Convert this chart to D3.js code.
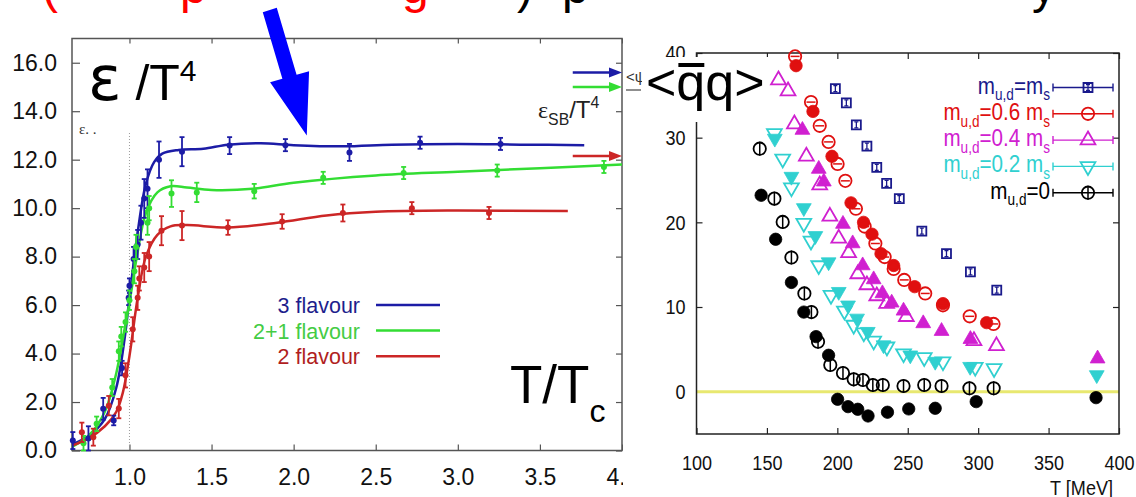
<!DOCTYPE html>
<html>
<head>
<meta charset="utf-8">
<script src="https://cdn.jsdelivr.net/npm/d3@7"></script>
<style>
  html, body { margin: 0; padding: 0; background: #fff; }
  svg { display: block; font-family: "Liberation Sans", Arial, sans-serif; }
</style>
</head>
<body>
<svg id="slide" width="1136" height="497"></svg>
<script>
// ---------- energy density panel: eps/T^4 against T/Tc ----------
const flavourNames = ['3 flavour', '2+1 flavour', '2 flavour'];
const flavourColors = ['#1c1ca6', '#33dd33', '#cc2626'];
const flavourTextColors = ['#1e1e8c', '#44cc44', '#b01e1e'];

// lattice results [T/Tc, eps/T^4, error]
const pts3 = [
  [0.655, 0.41, 0.35], [0.75, 0.5, 0.5], [0.84, 1.72, 0.45], [0.904, 1.24, 0.2],
  [0.955, 3.4, 0.3], [0.995, 6.3, 0.3], [1.0, 6.8, 0.3], [1.025, 7.9, 0.5],
  [1.05, 8.5, 0.6], [1.07, 9.4, 0.7], [1.09, 10.4, 0.8], [1.11, 10.8, 0.8],
  [1.18, 12.0, 0.75], [1.32, 12.33, 0.6], [1.61, 12.58, 0.35], [1.95, 12.6, 0.25],
  [2.34, 12.3, 0.35], [2.77, 12.7, 0.25], [3.26, 12.65, 0.25]
];
const pts21 = [
  [0.72, 0.3, 0.3], [0.80, 1.1, 0.3], [0.895, 2.6, 0.35], [0.935, 4.1, 0.4],
  [0.95, 4.7, 0.4], [0.976, 5.3, 0.4], [1.0, 6.2, 0.4], [1.03, 7.4, 0.5],
  [1.04, 8.4, 0.5], [1.11, 9.4, 0.5], [1.12, 10.0, 0.5], [1.256, 10.6, 0.55],
  [1.41, 10.65, 0.4], [1.76, 10.7, 0.3], [2.18, 11.25, 0.25], [2.67, 11.45, 0.25],
  [3.24, 11.55, 0.25], [3.89, 11.7, 0.25]
];
const pts2 = [
  [0.71, 0.75, 0.4], [0.78, 0.55, 0.35], [0.874, 1.85, 0.4], [0.935, 1.73, 0.4],
  [0.976, 3.1, 0.5], [1.02, 5.0, 0.5], [1.05, 6.3, 0.5], [1.06, 7.1, 0.5],
  [1.09, 7.55, 0.6], [1.12, 8.0, 0.6], [1.195, 9.07, 0.6], [1.32, 9.28, 0.6],
  [1.60, 9.2, 0.3], [1.93, 9.45, 0.3], [2.30, 9.8, 0.35], [2.72, 10.0, 0.25],
  [3.19, 9.8, 0.25]
];

// smooth fits through the data
const fit3 = [
  [0.65, 0.25], [0.75, 0.6], [0.85, 1.3], [0.92, 2.6], [0.97, 4.6], [1.0, 6.3],
  [1.05, 9.0], [1.1, 11.0], [1.15, 11.9], [1.2, 12.25], [1.3, 12.4], [1.45, 12.45],
  [1.6, 12.62], [1.8, 12.68], [2.0, 12.6], [2.3, 12.55], [2.6, 12.62], [3.0, 12.65],
  [3.4, 12.62], [3.77, 12.6]
];
const fit21 = [
  [0.65, 0.15], [0.75, 0.6], [0.85, 1.6], [0.92, 3.2], [0.97, 5.0], [1.0, 6.1],
  [1.05, 8.2], [1.1, 9.8], [1.17, 10.65], [1.25, 10.9], [1.35, 10.85], [1.5, 10.75],
  [1.75, 10.8], [2.0, 11.05], [2.5, 11.35], [3.0, 11.5], [3.5, 11.65], [4.0, 11.8]
];
const fit2 = [
  [0.65, 0.2], [0.75, 0.5], [0.85, 1.0], [0.92, 1.6], [0.96, 2.4], [1.0, 3.9],
  [1.05, 6.3], [1.1, 8.0], [1.17, 8.9], [1.25, 9.25], [1.35, 9.3], [1.6, 9.2],
  [1.9, 9.4], [2.2, 9.7], [2.5, 9.85], [3.0, 9.9], [3.67, 9.88]
];

const sbLimits = [15.6, 15.0, 12.15];   // Stefan-Boltzmann values
const epsTicksY = [0, 2, 4, 6, 8, 10, 12, 14, 16];
const epsTicksX = [1.0, 1.5, 2.0, 2.5, 3.0, 3.5, 4.0];

// ---------- chiral condensate panel: <qq> against T [MeV] ----------
const massLabels = [
  [['m'], ['u,d', 'sub'], ['=m'], ['s', 'sub']],
  [['m'], ['u,d', 'sub'], ['=0.6 m'], ['s', 'sub']],
  [['m'], ['u,d', 'sub'], ['=0.4 m'], ['s', 'sub']],
  [['m'], ['u,d', 'sub'], ['=0.2 m'], ['s', 'sub']],
  [['m'], ['u,d', 'sub'], ['=0']]
];
const massColors = ['#1a1a8c', '#e01010', '#d020d0', '#30d0d0', '#000000'];
const massSymbols = ['square', 'circle', 'triangle', 'triangleDown', 'circle'];

// [T, <qq>] open symbols
const openMs = [[198.6, 35.8], [206.4, 34.1], [213.5, 31.5], [221, 29.0], [228, 26.5], [235, 24.6],
  [244, 22.8], [260, 18.95], [277.5, 16.3], [294.5, 14.15], [313.2, 12.0]];
const open06 = [[170, 39.6], [181.3, 34.2], [187.5, 31.4], [193.8, 29.5], [200.2, 26.9], [205.7, 24.9],
  [213.2, 21.6], [219.4, 19.5], [227, 17.5], [233.6, 15.9], [240, 14.5], [247.5, 13.2],
  [262.4, 11.6], [275, 10.2], [294, 8.9], [310.9, 8.0]];
const open04 = [[158.2, 36.8], [165, 35.5], [169.5, 31.6], [178, 27.8], [187.5, 24.4], [194.7, 20.7],
  [201, 18.1], [208, 16.4], [214.5, 13.9], [221, 12.6], [228, 11.3], [235, 10.4], [249, 8.85],
  [297, 6.0], [313, 5.4]];
const open02 = [[155.3, 30.5], [161.2, 27.5], [167.4, 24.1], [176.2, 19.9], [181.3, 17.8], [186.8, 14.9],
  [195.5, 11.4], [205, 9.55], [211.6, 7.87], [218.8, 6.96], [225.8, 6.0], [235.2, 5.3], [247, 4.5],
  [261.7, 4.05], [275, 3.55], [297.9, 2.9], [311.3, 2.75]];
const open0 = [[144.9, 28.7], [155.3, 22.8], [161.2, 20.05], [167.4, 15.85], [176.6, 11.6], [181.6, 9.4],
  [186.3, 5.9], [195, 3.15], [204, 2.2], [211.6, 1.46], [218.2, 1.38], [225.2, 0.79], [232.3, 0.79],
  [247, 0.67], [261.7, 0.79], [274, 0.67], [293.8, 0.4], [311, 0.4]];

// [T, <qq>] filled symbols
const full06 = [[170.7, 38.5], [182.7, 33.1], [196.2, 27.8], [209.7, 22.3], [218.6, 20.0], [224.6, 18.6],
  [231, 16.3], [240, 14.9], [254.9, 12.4], [275, 10.4], [306, 8.15]];
const full04 = [[175.2, 30.9], [186.8, 26.3], [190.4, 24.8], [204, 19.8], [210.9, 17.5], [218, 14.9],
  [225.8, 13.25], [232, 11.6], [238.6, 10.5], [247, 9.55], [261, 8.06], [274, 7.15], [294.5, 6.2],
  [384.8, 3.9]];
const full02 = [[155.6, 29.9], [167.4, 25.4], [176.2, 21.7], [184.4, 18.4], [193.8, 15.3], [201, 11.8],
  [207.6, 10.2], [214, 8.65], [221.6, 7.08], [232.8, 5.5], [251.8, 4.3], [269.5, 3.55], [294.3, 2.95],
  [384.2, 1.97]];
const full0 = [[145.9, 23.2], [156.2, 18.0], [167.4, 12.9], [176.2, 9.4], [184.9, 6.5], [193.8, 4.3],
  [200.2, -0.9], [207.6, -1.77], [214.5, -2.08], [221.8, -2.87], [235.6, -2.43], [250.7, -2.04],
  [269.5, -1.96], [298.6, -1.18], [383.7, -0.71]];

const condTicksX = [100, 150, 200, 250, 300, 350, 400];
const condTicksY = [0, 10, 20, 30, 40];

// ------------------------------------------------------------------
const svg = d3.select('#slide');
svg.append('rect').attr('width', 1136).attr('height', 497).attr('fill', '#fff');

// slide headline, only its lower part reaches into view
const headGlyphs = [
  { t: '(', x: 42, c: '#ff0000' }, { t: 'p', x: 180, c: '#ff0000' }, { t: 'g', x: 402, c: '#ff0000' },
  { t: ')', x: 517, c: '#000' }, { t: 'p', x: 562, c: '#000' }, { t: 'y', x: 1032, c: '#000' }
];
svg.selectAll('text.head').data(headGlyphs).join('text')
  .attr('class', 'head')
  .attr('x', d => d.x).attr('y', 3)
  .attr('font-size', 48).attr('fill', d => d.c)
  .text(d => d.t);

function richText(g, x, y, parts, size, color, anchor) {
  const t = g.append('text').attr('x', x).attr('y', y)
    .attr('font-size', size).attr('fill', color).attr('text-anchor', anchor || 'start');
  let shift = 0;
  parts.forEach(p => {
    const kind = p[1];
    const target = kind === 'sub' ? size * 0.28 : kind === 'sup' ? -size * 0.42 : 0;
    t.append('tspan')
      .attr('dy', target - shift)
      .attr('font-size', kind ? size * 0.66 : size)
      .text(p[0]);
    shift = target;
  });
  return t;
}

// ---------------- left panel ----------------
const xL = d3.scaleLinear().domain([0.65, 4.0]).range([72, 622]);
const yL = d3.scaleLinear().domain([0, 17]).range([450.5, 38.5]);
const gL = svg.append('g');

function styleAxis(g, size) {
  g.select('.domain').remove();
  g.selectAll('line').attr('stroke', '#555').attr('stroke-width', 1.2);
  g.selectAll('text').attr('font-size', size).attr('fill', '#111')
    .attr('font-family', '"Liberation Sans", Arial, sans-serif');
}

gL.append('g').attr('transform', 'translate(72,0)')
  .call(d3.axisLeft(yL).tickValues(epsTicksY).tickFormat(d3.format('.1f'))
    .tickSizeInner(-8).tickSizeOuter(0).tickPadding(15))
  .call(g => styleAxis(g, 23));
gL.append('g').attr('transform', 'translate(622,0)')
  .call(d3.axisRight(yL).tickValues(epsTicksY).tickFormat('').tickSizeInner(-6).tickSizeOuter(0))
  .call(g => styleAxis(g, 0));
gL.append('g').attr('transform', 'translate(0,450.5)')
  .call(d3.axisBottom(xL).tickValues(epsTicksX).tickFormat(d3.format('.1f'))
    .tickSizeInner(-6).tickSizeOuter(0).tickPadding(18))
  .call(g => styleAxis(g, 23));
gL.append('g').attr('transform', 'translate(0,38.5)')
  .call(d3.axisTop(xL).tickValues(epsTicksX).tickFormat('').tickSizeInner(-5).tickSizeOuter(0))
  .call(g => styleAxis(g, 0));

gL.append('rect')
  .attr('x', xL(0.65)).attr('y', yL(17))
  .attr('width', xL(4.0) - xL(0.65)).attr('height', yL(0) - yL(17))
  .attr('fill', 'none').attr('stroke', '#555').attr('stroke-width', 1.5);

// T = Tc marker
gL.append('line')
  .attr('x1', xL(1)).attr('x2', xL(1)).attr('y1', yL(13.1)).attr('y2', yL(0))
  .attr('stroke', '#999').attr('stroke-width', 1).attr('stroke-dasharray', '1,2');

// remnant of the original axis label
gL.append('text').attr('x', 79).attr('y', 134).attr('font-size', 15)
  .attr('font-family', '"Liberation Serif", serif').attr('fill', '#333').text('ε. .');

const lineL = d3.line().x(d => xL(d[0])).y(d => yL(d[1])).curve(d3.curveCatmullRom.alpha(0.5));
const fits = [fit3, fit21, fit2];
const pointSets = [pts3, pts21, pts2];

fits.forEach((f, i) => {
  gL.append('path').datum(f).attr('d', lineL)
    .attr('fill', 'none').attr('stroke', flavourColors[i]).attr('stroke-width', 2.5);
});

pointSets.forEach((set, i) => {
  const g = gL.append('g').attr('stroke', flavourColors[i]).attr('fill', flavourColors[i]);
  const p = g.selectAll('g').data(set).join('g');
  p.append('line')
    .attr('x1', d => xL(d[0])).attr('x2', d => xL(d[0]))
    .attr('y1', d => yL(d[1] - d[2])).attr('y2', d => yL(d[1] + d[2]))
    .attr('stroke-width', 1.8);
  [-1, 1].forEach(s => {
    p.append('line')
      .attr('x1', d => xL(d[0]) - 2.5).attr('x2', d => xL(d[0]) + 2.5)
      .attr('y1', d => yL(d[1] + s * d[2])).attr('y2', d => yL(d[1] + s * d[2]))
      .attr('stroke-width', 1.8);
  });
  p.append('circle').attr('cx', d => xL(d[0])).attr('cy', d => yL(d[1])).attr('r', 3).attr('stroke', 'none');
});

// legend
const legL = gL.append('g');
flavourNames.forEach((name, i) => {
  const cy = 305 + i * 25.6;
  legL.append('text').attr('x', 360).attr('y', cy + 8)
    .attr('text-anchor', 'end').attr('font-size', 21.5).attr('fill', flavourTextColors[i]).text(name);
  legL.append('line').attr('x1', 376).attr('x2', 440).attr('y1', cy).attr('y2', cy)
    .attr('stroke', flavourColors[i]).attr('stroke-width', 2.5);
});

// Stefan-Boltzmann limits
sbLimits.forEach((v, i) => {
  const y = yL(v);
  gL.append('line').attr('x1', xL(3.7)).attr('x2', xL(4.0) - 10).attr('y1', y).attr('y2', y)
    .attr('stroke', flavourColors[i]).attr('stroke-width', 2.5);
  const xe = xL(4.0);
  gL.append('path').attr('d', `M${xe},${y} L${xe - 13},${y - 5} L${xe - 13},${y + 5} Z`)
    .attr('fill', flavourColors[i]);
});
richText(gL, 538, 118, [['ε'], ['SB', 'sub'], ['/T'], ['4', 'sup']], 24, '#222')
  .select('tspan').attr('font-family', '"Liberation Serif", serif');

// big axis captions
const capEps = gL.append('text').attr('x', 88).attr('y', 100).attr('fill', '#000');
capEps.append('tspan').attr('font-size', 62).attr('font-family', '"DejaVu Sans", sans-serif').text('ε');
capEps.append('tspan').attr('font-size', 50).text(' /T');
capEps.append('tspan').attr('font-size', 30).attr('dy', -19).text('4');

const capT = gL.append('text').attr('x', 510).attr('y', 403).attr('fill', '#000');
capT.append('tspan').attr('font-size', 53).text('T/T');
capT.append('tspan').attr('font-size', 32).attr('dy', 19).text('c');

// pointer arrow, tip anchored in data space
const arrowTip = [2.08, 13.0];
const arrowShape = [[-44, -123.3], [-30, -127.7], [-10.2, -60.8], [2.3, -64.3], [0, 0],
  [-36.7, -53.3], [-24.4, -56.7]];
gL.append('path')
  .attr('d', 'M' + arrowShape.map(p => [xL(arrowTip[0]) + p[0], yL(arrowTip[1]) + p[1]].join(',')).join('L') + 'Z')
  .attr('fill', '#0000ff');

// ---------------- right panel ----------------
svg.append('rect').attr('x', 623).attr('y', 22).attr('width', 513).attr('height', 475).attr('fill', '#fff');

// remnant of the underlying label at the panel seam
svg.append('text').attr('x', 626).attr('y', 82).attr('font-size', 15).attr('fill', '#333').text('<ψ');
svg.append('line').attr('x1', 626).attr('x2', 641).attr('y1', 90).attr('y2', 90)
  .attr('stroke', '#444').attr('stroke-width', 1.2);

const xR = d3.scaleLinear().domain([100, 400]).range([696.5, 1119]);
const yR = d3.scaleLinear().domain([-5, 40]).range([434, 53]);
const gR = svg.append('g');
const squeeze = 0.86;   // condensed lettering of this panel

function styleAxisR(g, size, padX) {
  g.select('.domain').remove();
  g.selectAll('line').attr('stroke', '#222').attr('stroke-width', 1.2);
  const t = g.selectAll('text').attr('font-size', size).attr('fill', '#111')
    .attr('transform', `scale(${squeeze},1)`);
  if (padX) t.attr('x', padX / squeeze);
}

gR.append('g').attr('transform', 'translate(696.5,0)')
  .call(d3.axisLeft(yR).tickValues(condTicksY).tickSizeInner(-6).tickSizeOuter(0).tickPadding(11))
  .call(g => styleAxisR(g, 21, -11));
gR.append('g').attr('transform', 'translate(1119,0)')
  .call(d3.axisRight(yR).tickValues(condTicksY).tickFormat('').tickSizeInner(-6).tickSizeOuter(0))
  .call(g => styleAxisR(g, 0));
gR.append('g').attr('transform', 'translate(0,434)')
  .call(d3.axisBottom(xR).tickValues(condTicksX).tickSizeInner(-6).tickSizeOuter(0).tickPadding(21))
  .call(g => styleAxisR(g, 21));
gR.append('g').attr('transform', 'translate(0,53)')
  .call(d3.axisTop(xR).tickValues(condTicksX).tickFormat('').tickSizeInner(-6).tickSizeOuter(0))
  .call(g => styleAxisR(g, 0));

gR.append('line').attr('x1', xR(100)).attr('x2', xR(400)).attr('y1', yR(0)).attr('y2', yR(0))
  .attr('stroke', '#e8e870').attr('stroke-width', 3);

gR.append('rect')
  .attr('x', xR(100)).attr('y', yR(40)).attr('width', xR(400) - xR(100)).attr('height', yR(-5) - yR(40))
  .attr('fill', 'none').attr('stroke', '#222').attr('stroke-width', 1.5);

gR.append('g').attr('transform', `translate(1113,495) scale(${squeeze},1)`)
  .append('text').attr('text-anchor', 'end')
  .attr('font-size', 21).attr('fill', '#111').text('T [MeV]');

const symbolTypes = {
  square: [d3.symbolSquare, 81, 0],
  circle: [d3.symbolCircle, 120, 0],
  triangle: [d3.symbolTriangle, 95, 0],
  triangleDown: [d3.symbolTriangle, 95, 180]
};

function drawMarker(g, x, y, idx, filled) {
  const [type, size, rot] = symbolTypes[massSymbols[idx]];
  const c = massColors[idx];
  const m = g.append('g').attr('transform', `translate(${x},${y})`);
  m.append('path')
    .attr('d', d3.symbol(type, size)())
    .attr('transform', `rotate(${rot})`)
    .attr('fill', filled ? c : 'none')
    .attr('stroke', c).attr('stroke-width', filled ? 0.8 : 1.8);
  if (!filled) {
    if (idx === 0) {
      m.append('path').attr('d', 'M-2,-3H2M0,-3V3M-2,3H2').attr('stroke', c).attr('stroke-width', 1.3).attr('fill', 'none');
    } else if (idx === 1) {
      m.append('path').attr('d', 'M-4.5,0H4.5').attr('stroke', c).attr('stroke-width', 1.5);
    } else if (idx === 4) {
      m.append('path').attr('d', 'M0,-7V7').attr('stroke', c).attr('stroke-width', 1.5);
    }
  }
}

const filledSets = [[1, full06], [2, full04], [3, full02], [4, full0]];
const openSets = [[0, openMs], [1, open06], [2, open04], [3, open02], [4, open0]];
filledSets.forEach(([idx, set]) => set.forEach(d => drawMarker(gR, xR(d[0]), yR(d[1]), idx, true)));
openSets.forEach(([idx, set]) => set.forEach(d => drawMarker(gR, xR(d[0]), yR(d[1]), idx, false)));

// legend
massLabels.forEach((parts, i) => {
  const cy = 87.5 + i * 26.3;
  const lg = gR.append('g').attr('transform', `translate(1050,${cy + 6}) scale(${squeeze},1)`);
  richText(lg, 0, 0, parts, 24, massColors[i], 'end');
  gR.append('path').attr('d', `M1053,${cy - 4}V${cy + 4}M1053,${cy}H1113M1113,${cy - 4}V${cy + 4}`)
    .attr('stroke', massColors[i]).attr('stroke-width', 1.4).attr('fill', 'none');
  drawMarker(gR, 1088, cy, i, false);
});

// condensate caption on its own white card
svg.append('rect').attr('x', 642).attr('y', 57).attr('width', 126).attr('height', 65).attr('fill', '#fff');
const capQ = svg.append('text').attr('x', 646).attr('y', 100).attr('font-size', 52).attr('fill', '#000').text('<qq>');
const qStart = 646 + capQ.node().getSubStringLength(0, 1);
const qWidth = capQ.node().getSubStringLength(1, 1);
svg.append('line').attr('x1', qStart + 2).attr('x2', qStart + qWidth - 1).attr('y1', 65).attr('y2', 65)
  .attr('stroke', '#000').attr('stroke-width', 4);
</script>
</body>
</html>
